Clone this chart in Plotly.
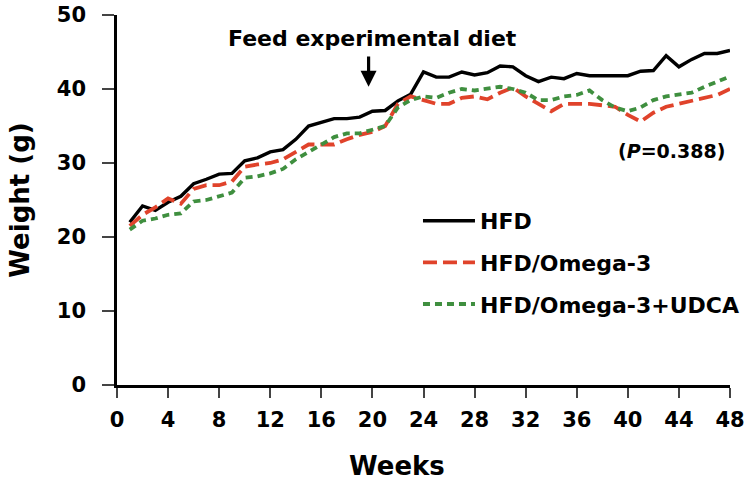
import plotly.graph_objects as go

weeks = list(range(1, 49))
hfd = [22.0, 24.2, 23.6, 24.7, 25.5, 27.2, 27.8, 28.5, 28.6, 30.3, 30.7, 31.5, 31.8, 33.2, 35.0, 35.5,
       36.0, 36.0, 36.2, 37.0, 37.1, 38.4, 39.3, 42.3, 41.6, 41.6, 42.3, 41.9, 42.2, 43.1, 43.0, 41.8,
       41.0, 41.6, 41.4, 42.1, 41.8, 41.8, 41.8, 41.8, 42.4, 42.5, 44.5, 43.0, 44.0, 44.8, 44.8, 45.2]
omega3 = [21.5, 23.0, 24.0, 25.2, 24.5, 26.5, 27.0, 27.0, 27.5, 29.5, 29.8, 30.0, 30.5, 31.5, 32.5, 32.5,
          32.5, 33.2, 33.8, 34.2, 35.0, 38.0, 39.0, 38.5, 38.0, 38.0, 38.8, 39.0, 38.6, 39.5, 40.2, 39.0,
          38.0, 37.0, 38.0, 38.0, 38.0, 37.8, 37.6, 36.5, 35.6, 36.8, 37.6, 38.0, 38.4, 38.8, 39.2, 40.0]
omega3_udca = [21.0, 22.2, 22.5, 23.0, 23.2, 24.8, 25.0, 25.5, 26.0, 28.0, 28.2, 28.6, 29.2, 30.5, 31.5, 32.5,
               33.5, 34.0, 34.0, 34.5, 35.0, 37.5, 38.5, 39.0, 38.8, 39.5, 40.0, 39.8, 40.0, 40.3, 40.0, 39.5,
               38.5, 38.5, 39.0, 39.2, 39.8, 38.5, 37.5, 37.0, 37.5, 38.5, 39.0, 39.2, 39.5, 40.3, 41.0, 41.7]
series_names = ["HFD", "HFD/Omega-3", "HFD/Omega-3+UDCA"]
x_ticks = list(range(0, 49, 4))
y_ticks = list(range(0, 51, 10))
arrow_week = 19.7
p_text = "(<i>P</i>=0.388)"

FONT = "DejaVu Sans, Liberation Sans, Arial, sans-serif"

fig = go.Figure()
styles = [
    dict(color="#000000", width=3.4, dash="solid"),
    dict(color="#e0432b", width=3.8, dash="14px,6px"),
    dict(color="#3f8f3f", width=3.8, dash="7px,5px"),
]
for i, (name, ys) in enumerate(zip(series_names, [hfd, omega3, omega3_udca])):
    fig.add_trace(go.Scatter(x=weeks, y=ys, mode="lines", name=name, line=styles[i],
                             legendgroup=name, showlegend=True))

fig.update_layout(
    width=749, height=487,
    margin=dict(l=117, r=19, t=15, b=102, autoexpand=False),
    paper_bgcolor="white", plot_bgcolor="white",
    font=dict(family=FONT, color="#000", size=20),
    legend=dict(x=0.491, y=0.5, xanchor="left", yanchor="top",
                font=dict(size=22, family=FONT, weight="bold"),
                tracegroupgap=10, itemwidth=52, bgcolor="rgba(0,0,0,0)"),
    xaxis=dict(range=[0, 48], tickvals=x_ticks, ticks="outside", ticklen=10, tickwidth=2,
               showline=True, linewidth=2.5, linecolor="#000", showgrid=False, zeroline=False,
               ticklabelstandoff=4, ticklabeloverflow="allow", automargin=False,
               tickfont=dict(size=21, family=FONT, weight="bold")),
    yaxis=dict(range=[0, 50], tickvals=y_ticks, ticks="outside", ticklen=12, tickwidth=2,
               showline=True, linewidth=2.5, linecolor="#000", showgrid=False, zeroline=False,
               ticklabelstandoff=12, ticklabeloverflow="allow", automargin=False,
               tickfont=dict(size=21, family=FONT, weight="bold"),
               title=dict(text="<b>Weight (g)</b>", font=dict(size=26, family=FONT), standoff=20)),
)

fig.add_annotation(x=0.457, y=0, xref="paper", yref="paper", yshift=-81, showarrow=False,
                   xanchor="center", yanchor="middle",
                   text="<b>Weeks</b>", font=dict(size=26, family=FONT))
fig.add_annotation(x=arrow_week, y=40.3, ax=arrow_week, ay=44.6, xref="x", yref="y", axref="x", ayref="y",
                   showarrow=True, arrowhead=2, arrowsize=1, arrowwidth=3.2, arrowcolor="#000", text="")
fig.add_annotation(x=20.0, y=46.8, xref="x", yref="y", showarrow=False,
                   text="<b>Feed experimental diet</b>", font=dict(size=22, family=FONT))
fig.add_annotation(x=43.4, y=31.6, xref="x", yref="y", showarrow=False,
                   text="<b>" + p_text + "</b>", font=dict(size=19, family=FONT))

fig.write_html("out.html", config={"displayModeBar": False},
               post_script="document.body.style.margin='0';")
